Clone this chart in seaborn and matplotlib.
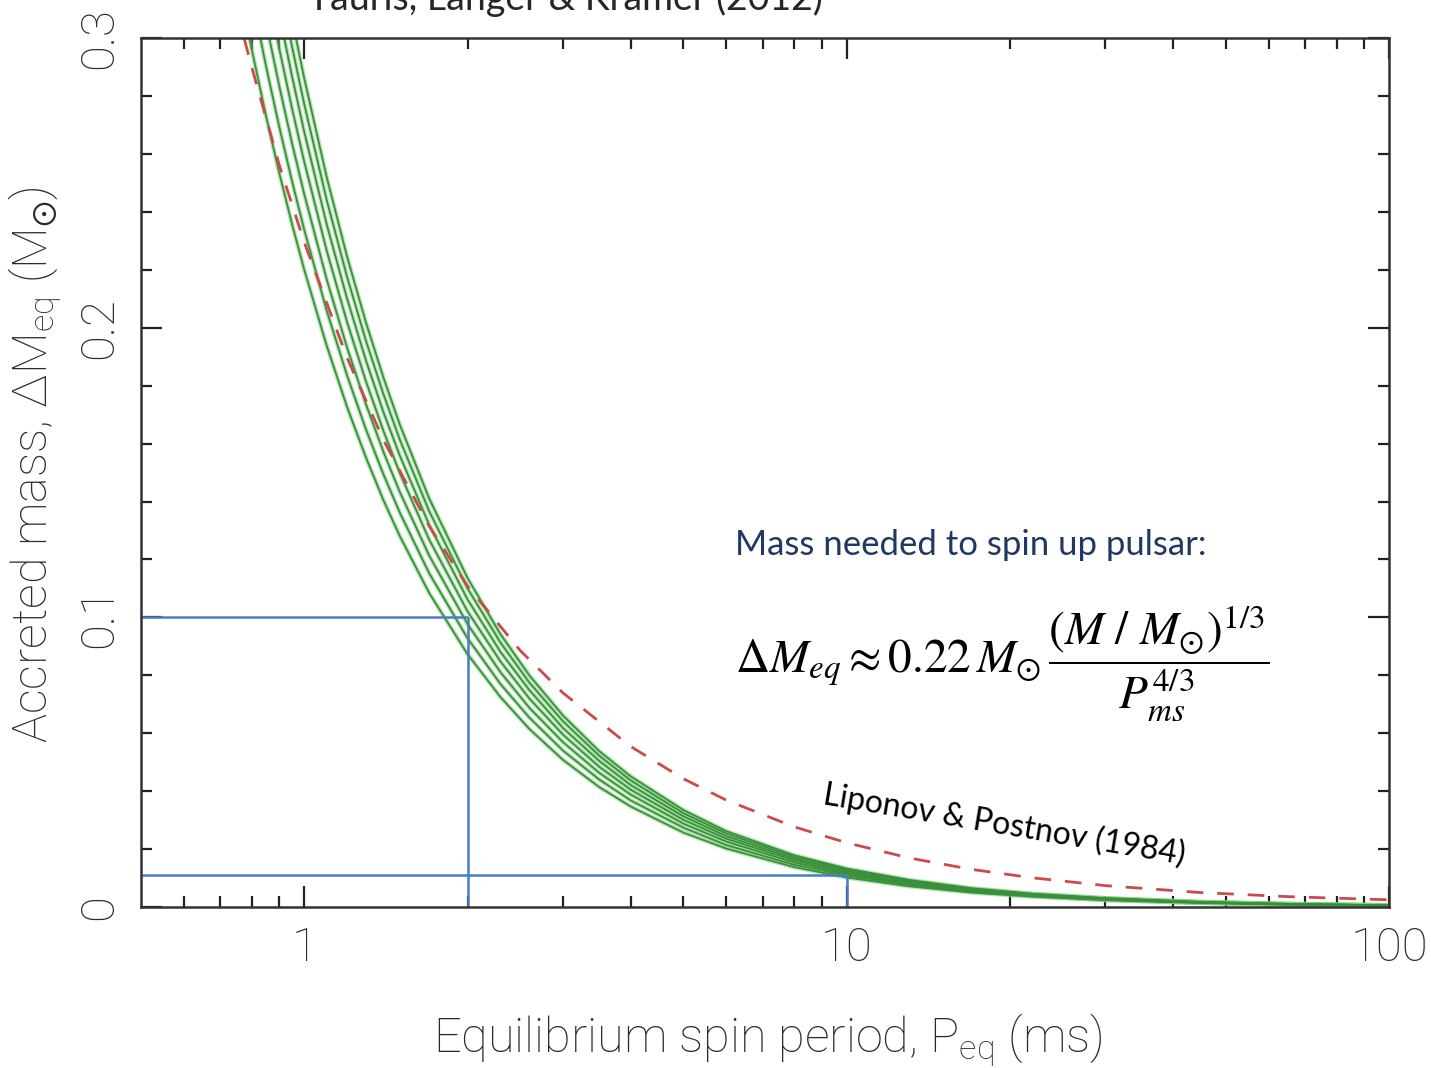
import matplotlib
matplotlib.use("Agg")
import matplotlib.pyplot as plt
import numpy as np
import pandas as pd
import seaborn as sns
from matplotlib.ticker import FixedLocator, MultipleLocator, NullFormatter


# equilibrium spin period grid (ms) for the NS-mass curves
period = [0.75, 0.8, 0.85, 0.9, 0.95, 1.0, 1.1, 1.2, 1.3, 1.4, 1.5, 1.7, 2.0, 2.3, 2.6,
          3.0, 3.5, 4.0, 5.0, 6.0, 8.0, 10, 13, 17, 22, 30, 45, 65, 100]
ns_mass = [1.0, 1.2, 1.4, 1.6, 1.8, 2.0, 2.2]
dm_m10 = [0.3229, 0.2962, 0.2732, 0.2532, 0.2356, 0.2200, 0.1938, 0.1725, 0.1551, 0.1404, 0.1281, 0.1084,
          0.0873, 0.0725, 0.0615, 0.0508, 0.0414, 0.0347, 0.0257, 0.0202, 0.0138, 0.0102, 0.0072, 0.0050,
          0.0036, 0.0024, 0.0014, 0.0008, 0.0005]
dm_m12 = [0.3431, 0.3148, 0.2904, 0.2691, 0.2504, 0.2338, 0.2059, 0.1834, 0.1648, 0.1493, 0.1362, 0.1152,
          0.0928, 0.0770, 0.0654, 0.0540, 0.0440, 0.0368, 0.0274, 0.0214, 0.0146, 0.0109, 0.0077, 0.0054,
          0.0038, 0.0025, 0.0015, 0.0009, 0.0005]
dm_m14 = [0.3612, 0.3314, 0.3056, 0.2832, 0.2635, 0.2461, 0.2167, 0.1930, 0.1735, 0.1571, 0.1433, 0.1213,
          0.0977, 0.0811, 0.0688, 0.0569, 0.0463, 0.0388, 0.0288, 0.0226, 0.0154, 0.0114, 0.0081, 0.0056,
          0.0040, 0.0026, 0.0015, 0.0009, 0.0005]
dm_m16 = [0.3776, 0.3465, 0.3195, 0.2961, 0.2755, 0.2573, 0.2266, 0.2018, 0.1814, 0.1643, 0.1499, 0.1268,
          0.1021, 0.0848, 0.0720, 0.0595, 0.0484, 0.0405, 0.0301, 0.0236, 0.0161, 0.0119, 0.0084, 0.0059,
          0.0042, 0.0028, 0.0016, 0.0010, 0.0006]
dm_m18 = [0.3928, 0.3603, 0.3323, 0.3080, 0.2866, 0.2676, 0.2357, 0.2099, 0.1886, 0.1708, 0.1559, 0.1319,
          0.1062, 0.0881, 0.0749, 0.0618, 0.0504, 0.0421, 0.0313, 0.0245, 0.0167, 0.0124, 0.0088, 0.0061,
          0.0043, 0.0029, 0.0017, 0.0010, 0.0006]
dm_m20 = [0.4069, 0.3733, 0.3443, 0.3190, 0.2968, 0.2772, 0.2441, 0.2174, 0.1954, 0.1770, 0.1614, 0.1366,
          0.1100, 0.0913, 0.0775, 0.0641, 0.0522, 0.0437, 0.0324, 0.0254, 0.0173, 0.0129, 0.0091, 0.0063,
          0.0045, 0.0030, 0.0017, 0.0011, 0.0006]
dm_m22 = [0.4199, 0.3852, 0.3553, 0.3293, 0.3064, 0.2861, 0.2520, 0.2244, 0.2017, 0.1827, 0.1666, 0.1410,
          0.1136, 0.0942, 0.0800, 0.0661, 0.0538, 0.0451, 0.0335, 0.0262, 0.0179, 0.0133, 0.0094, 0.0065,
          0.0046, 0.0031, 0.0018, 0.0011, 0.0006]

# Lipunov & Postnov (1984) dashed curve
lp_period = [0.75, 0.8, 0.9, 1.0, 1.2, 1.4, 1.7, 2.0, 2.5, 3.0, 4.0, 5.0, 6.0, 8.0, 10, 13, 17, 22, 30, 45, 65, 100]
lp_dm = [0.310, 0.290, 0.256, 0.2295, 0.1895, 0.1612, 0.1315, 0.1108, 0.0886, 0.0739, 0.0554, 0.0443, 0.0369,
         0.0277, 0.0222, 0.0170, 0.0130, 0.0101, 0.0074, 0.0050, 0.0036, 0.0025]

# blue guide boxes: spin period (ms) and accreted mass
box_period = [2.0, 10.0]
box_dm = [0.1, 0.0112]

x_ticks = [1, 10, 100]
x_ticklabels = ["1", "10", "100"]
y_ticks = [0, 0.1, 0.2, 0.3]
y_ticklabels = ["0", "0.1", "0.2", "0.3"]

green_dark, green_light = "#3A8F3A", "#7FD07F"
red, blue, navy, ink = "#CC4A4A", "#4A7CC4", "#1F3864", "#2A2A2A"
axis_font = ["Roboto", "DejaVu Sans"]

sns.set_theme(style="ticks")
plt.rcParams["font.family"] = ["Lato", "DejaVu Sans"]

curves = pd.DataFrame({
    "P": period * len(ns_mass),
    "dM": dm_m10 + dm_m12 + dm_m14 + dm_m16 + dm_m18 + dm_m20 + dm_m22,
    "mass": np.repeat(ns_mass, len(period)),
})
lp = pd.DataFrame({"P": lp_period, "dM": lp_dm})

fig = plt.figure(figsize=(14.31, 10.68), dpi=100)
ax = fig.add_axes([0.0985, 0.1507, 0.8722, 0.8137])
xmin, xmax = 0.5, 100

sns.lineplot(data=curves, x="P", y="dM", units="mass", estimator=None, color=green_light,
             lw=3.2, alpha=0.55, ax=ax, legend=False)
sns.lineplot(data=curves, x="P", y="dM", units="mass", estimator=None, color=green_dark,
             lw=1.3, ax=ax, legend=False)
sns.lineplot(data=lp, x="P", y="dM", color=red, lw=2.0, ls=(0, (6, 5)), ax=ax, legend=False)

ax.hlines(box_dm, xmin, box_period, color=blue, lw=1.8)
ax.vlines(box_period, 0, box_dm, color=blue, lw=1.8)

ax.set_xscale("log")
ax.set_xlim(xmin, xmax)
ax.set_ylim(0, 0.3)
ax.xaxis.set_major_locator(FixedLocator(x_ticks))
ax.xaxis.set_minor_locator(FixedLocator([0.6, 0.7, 0.8, 0.9] + list(range(2, 10)) + list(range(20, 100, 10))))
ax.xaxis.set_minor_formatter(NullFormatter())
ax.set_xticklabels(x_ticklabels, fontsize=34, color=ink, family=axis_font, fontweight="light")
ax.set_yticks(y_ticks)
ax.yaxis.set_minor_locator(MultipleLocator(0.02))
ax.set_yticklabels(y_ticklabels, fontsize=34, color=ink, family=axis_font, fontweight="light",
                   rotation=90, va="center")
ax.tick_params(which="both", direction="in", top=True, right=True, color="#222222", width=1.6)
ax.tick_params(which="major", length=15, pad=14)
ax.tick_params(which="minor", length=8)
ax.tick_params(axis="y", pad=14)
for s in ax.spines.values():
    s.set_color("#333333")
    s.set_linewidth(1.8)
ax.set_xlabel("")
ax.set_ylabel("")

fig.text(768 / 1431, 1 - 1040 / 1068, r"Equilibrium spin period, $\mathregular{P_{eq}}$ (ms)",
         ha="center", va="center", fontsize=35, color=ink, family=axis_font, fontweight="light")
fig.text(35 / 1431, 1 - 465 / 1068, r"Accreted mass, $\mathregular{\Delta M_{eq}}$ $\mathregular{(M_{\odot})}$",
         ha="center", va="center", rotation=90, fontsize=35, color=ink, family=axis_font, fontweight="light")
fig.text(565 / 1431, 1 - 10 / 1068, "Tauris, Langer & Kramer (2012)", ha="center", va="baseline", fontsize=27)

fig.text(735 / 1431, 1 - 555 / 1068, "Mass needed to spin up pulsar:", ha="left", va="baseline",
         fontsize=25, color=navy)
fig.text(735 / 1431, 1 - 672 / 1068,
         r"$\Delta M_{eq} \approx 0.22\,M_{\odot}\,\dfrac{(M\ /\ M_{\odot})^{1/3}}{P_{ms}^{4/3}}$",
         ha="left", va="baseline", fontsize=34, math_fontfamily="stix", color="black")
fig.text(1004 / 1431, 1 - 825 / 1068, "Liponov & Postnov (1984)", ha="center", va="center",
         rotation=-9.5, fontsize=23, color="black")

fig.savefig("out.png", dpi=100)
plt.close(fig)
